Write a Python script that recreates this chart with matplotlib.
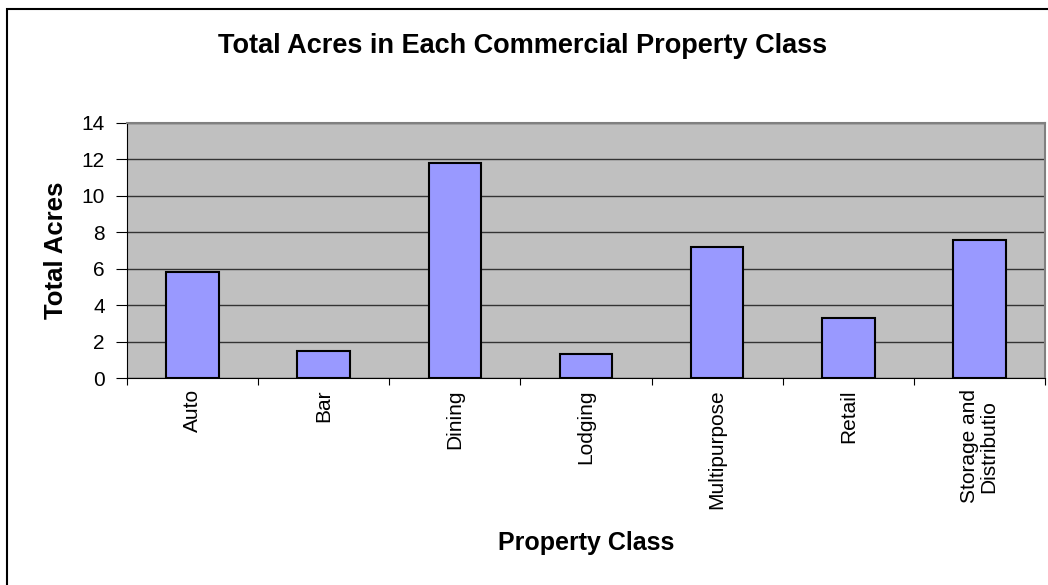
import matplotlib
matplotlib.use("Agg")
import matplotlib.pyplot as plt
from matplotlib.patches import Rectangle

plt.rcParams['font.family'] = ['Liberation Sans', 'DejaVu Sans']

categories = ['Auto', 'Bar', 'Dining', 'Lodging', 'Multipurpose', 'Retail',
              'Storage and\nDistributio']
acres = [5.8, 1.5, 11.8, 1.3, 7.2, 3.3, 7.6]
yticks = [0, 2, 4, 6, 8, 10, 12, 14]

W, H = 1048, 585
fig = plt.figure(figsize=(W / 100, H / 100), dpi=100)
fig.patch.set_facecolor('white')

# outer chart border (runs off the right/bottom edges)
fig.patches.append(Rectangle((7 / W, -0.2), 1.2, 1.2 - 9 / H, transform=fig.transFigure,
                             fill=False, edgecolor='black', linewidth=1.5))

ax = fig.add_axes([127 / W, 1 - 378 / H, 918 / W, 255 / H])
ax.set_facecolor('#c0c0c0')

x = list(range(len(categories)))
ax.bar(x, acres, width=0.4, color='#9999ff', edgecolor='black', linewidth=1.5, zorder=3)

ax.set_xlim(-0.5, len(categories) - 0.5)
ax.set_ylim(0, 14)
ax.set_yticks(yticks)
ax.set_yticklabels([str(v) for v in yticks], fontsize=15)
ax.yaxis.grid(True, color='#333333', linewidth=1, zorder=1)

ax.set_xticks([i - 0.5 for i in range(len(categories) + 1)], minor=False)
ax.set_xticklabels([])
ax.set_xticks(x, minor=True)
ax.set_xticklabels(categories, minor=True, rotation=90, fontsize=15,
                   va='top', ha='center', linespacing=1.0)
ax.tick_params(axis='x', which='minor', length=0, pad=8)
ax.tick_params(axis='x', which='major', length=5, direction='out', color='black')
ax.tick_params(axis='y', length=8, direction='out', pad=8)

for side in ['top', 'right']:
    ax.spines[side].set_color('#808080')
    ax.spines[side].set_linewidth(1.5)
ax.spines['left'].set_color('black')
ax.spines['bottom'].set_color('black')

ax.set_ylabel('Total Acres', fontsize=18.5, fontweight='bold', labelpad=10)
fig.text(586 / W, 1 - 543 / H, 'Property Class', fontsize=18, fontweight='bold',
         ha='center', va='center')
fig.text(523 / W, 1 - 46 / H, 'Total Acres in Each Commercial Property Class',
         fontsize=19.5, fontweight='bold', ha='center', va='center')

fig.savefig('out.png', dpi=100)
